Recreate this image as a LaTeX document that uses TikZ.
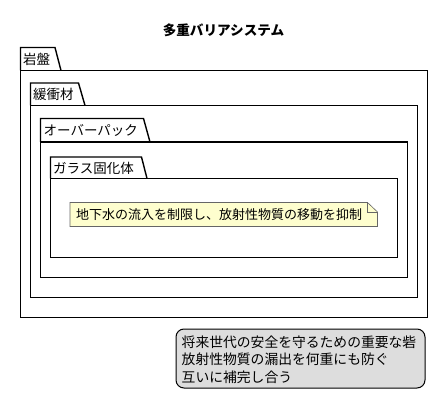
\documentclass[tikz,border=0pt]{standalone}
\usepackage{fontspec}
\setmainfont{Noto Sans CJK JP}
\usepackage{xcolor}
\usetikzlibrary{calc}
\definecolor{notefill}{HTML}{FEFECE}
\definecolor{legendfill}{HTML}{DDDDDD}
\tikzset{
  pkg/.style={draw=black, line width=1.4pt},
  pkglabel/.style={anchor=west, inner sep=0pt, font=\fontsize{13.5}{15}\selectfont},
}

\begin{document}
\begin{tikzpicture}[x=1pt,y=-1pt]
        \useasboundingbox (0,0) rectangle (448,412);
        \node (title) at (223.5,30) {\fontsize{13.6}{15}\selectfont\bfseries 多重バリアシステム};
        % packages, outer to inner
        \draw[pkg] (20.5,70.5) -- (20.5,47.5) -- (55,47.5) -- (61,70.5);
        \draw[pkg] (20.5,70.5) rectangle (427.5,317.5);
        \node[pkglabel] (rock) at (23,59) {岩盤};
        \draw[pkg] (30.5,105.5) -- (30.5,83) -- (78.5,83) -- (85,105.5);
        \draw[pkg] (30.5,105.5) rectangle (417.5,297.5);
        \node[pkglabel] (buffer) at (33,94.5) {緩衝材};
        \draw[pkg] (40.5,142) -- (40.5,118.5) -- (143.5,118.5) -- (150,142);
        \draw[pkg] (40.5,142) rectangle (407.5,277.5);
        \node[pkglabel] (overpack) at (43.5,130.5) {オーバーパック};
        \draw[pkg] (50.5,178.5) -- (50.5,157) -- (141.5,157) -- (147,178.5);
        \draw[pkg] (50.5,178.5) rectangle (397.5,257.5);
        \node[pkglabel] (glass) at (53,168) {ガラス固化体};
        % note
        \draw[fill=notefill, draw=gray!80!black, line width=0.6pt]
            (70,202.5) -- (367.5,202.5) -- (377.5,212) -- (377.5,226.5) -- (70,226.5) -- cycle;
        \draw[draw=gray!80!black, line width=0.6pt] (367.5,202.5) -- (367.5,212) -- (377.5,212);
        \node[anchor=west, inner sep=0pt, font=\fontsize{13}{15}\selectfont] (note) at (76,214.5)
            {地下水の流入を制限し、放射性物質の移動を抑制};
        % legend
        \draw[fill=legendfill, draw=black, line width=1pt, rounded corners=8pt] (176,329) rectangle (425,388);
        \node[anchor=north west, inner sep=0pt, align=left, font=\fontsize{13.8}{17.5}\selectfont] (legend) at (181.5,335.5)
            {将来世代の安全を守るための重要な砦\\放射性物質の漏出を何重にも防ぐ\\互いに補完し合う};
    \end{tikzpicture}
\end{document}
